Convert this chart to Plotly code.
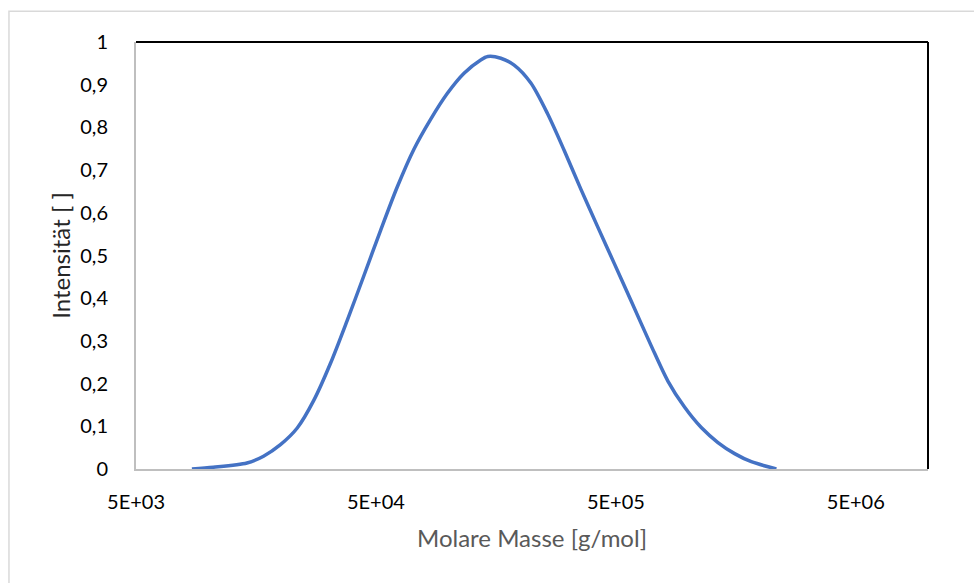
import plotly.graph_objects as go

# Molar mass distribution (GPC trace)
molar_mass = [8550, 10500, 14500, 17000, 20000, 23500, 27500, 32300, 37900, 44500,
              52300, 61400, 72000, 84500, 99300, 116500, 136700, 146300,
              165800, 188400, 221200, 259700, 304700, 357700, 420100, 492800,
              578600, 701400, 823800, 966400, 1135000, 1332000, 1563000, 1835000,
              2334000]
intensity = [0.000, 0.004, 0.014, 0.030, 0.057, 0.096, 0.160, 0.247, 0.347, 0.452,
             0.559, 0.661, 0.749, 0.819, 0.880, 0.927, 0.958, 0.966,
             0.962, 0.946, 0.904, 0.832, 0.746, 0.655, 0.567, 0.481,
             0.394, 0.289, 0.206, 0.145, 0.097, 0.062, 0.036, 0.017,
             0.000]

x_tickvals = [5e3, 5e4, 5e5, 5e6]
x_ticktext = ["5E+03", "5E+04", "5E+05", "5E+06"]
y_tickvals = [0, 0.1, 0.2, 0.3, 0.4, 0.5, 0.6, 0.7, 0.8, 0.9, 1]

x_title = "Molare Masse [g/mol]"
y_title = "Intensität [ ]"

FONT = "Lato"

fig = go.Figure()
fig.add_trace(go.Scatter(
    x=molar_mass, y=intensity, mode="lines",
    line=dict(color="#4472C4", width=3.5, shape="spline", smoothing=0.8),
    showlegend=False, hoverinfo="skip",
))

fig.update_layout(
    width=974, height=583,
    margin=dict(l=136, r=46, t=42, b=114),
    paper_bgcolor="white", plot_bgcolor="white",
    separators=",.",
    font=dict(family=FONT, size=20, color="black"),
    xaxis=dict(
        type="log", range=[3.69897, 7.0], tickvals=x_tickvals, ticktext=x_ticktext,
        showgrid=False, zeroline=False, showline=True, linecolor="#bfbfbf", linewidth=2,
        ticks="outside", ticklen=14, tickcolor="rgba(0,0,0,0)",
        tickfont=dict(family=FONT, size=20, color="black"),
        title=dict(text=x_title, font=dict(family=FONT, size=24, color="#595959"), standoff=18),
    ),
    yaxis=dict(
        range=[0, 1], tickvals=y_tickvals,
        showgrid=False, zeroline=False, showline=True, linecolor="#bfbfbf", linewidth=2,
        ticks="outside", ticklen=22, tickcolor="rgba(0,0,0,0)",
        tickfont=dict(family=FONT, size=20, color="black"),
        title=dict(text=y_title, font=dict(family=FONT, size=24, color="#262626"), standoff=3),
    ),
    shapes=[
        # outer chart border
        dict(type="rect", xref="paper", yref="paper", x0=-0.1604, x1=1.07, y0=-0.29, y1=1.0718,
             line=dict(color="#d9d9d9", width=1.5), layer="below"),
        # top and right frame lines of the plot area
        dict(type="line", xref="paper", yref="paper", x0=0, x1=1, y0=1, y1=1,
             line=dict(color="black", width=2)),
        dict(type="line", xref="paper", yref="paper", x0=1, x1=1, y0=0, y1=1,
             line=dict(color="black", width=2)),
    ],
)

fig.write_html("out.html")
